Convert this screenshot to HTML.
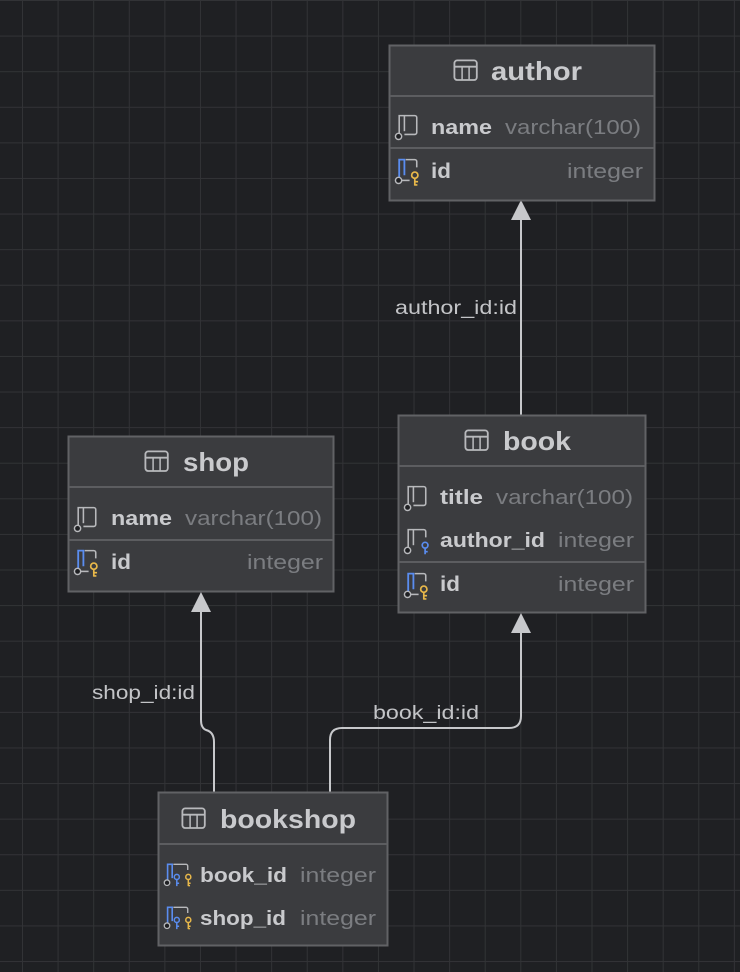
<!DOCTYPE html>
<html><head><meta charset="utf-8"><style>
html,body{margin:0;padding:0;}
body{width:740px;height:972px;overflow:hidden;background-color:#1f2023;
background-image:linear-gradient(to right,#323336 1px,transparent 1px),linear-gradient(to bottom,#323336 1px,transparent 1px);
background-size:35.6px 35.6px;background-position:22px 0px;font-family:"Liberation Sans",sans-serif;}
svg{position:absolute;left:0;top:0}
.t{font-weight:bold;fill:#c9cacd}
.g{fill:#7b7d81}
.l{fill:#c3c4c7;font-size:19px}
</style></head><body>
<svg width="740" height="972" xmlns="http://www.w3.org/2000/svg">
<defs>
<g id="tbl0"><rect x="1" y="1" width="16" height="14" rx="2" fill="none" stroke="#b8b9bc" stroke-width="1.3"/><line x1="1" y1="5.5" x2="17" y2="5.5" stroke="#b8b9bc" stroke-width="1.3"/><line x1="6.5" y1="5.5" x2="6.5" y2="15" stroke="#b8b9bc" stroke-width="1.1"/><line x1="11.5" y1="5.5" x2="11.5" y2="15" stroke="#b8b9bc" stroke-width="1.1"/></g>
<g id="tbl"><use href="#tbl0" transform="scale(1.4)"/></g>
<g id="col0"><path d="M4 16 V2 H16 a1.5 1.5 0 0 1 1.5 1.5 V15 a1.5 1.5 0 0 1 -1.5 1.5 H8" fill="none" stroke="#b8b9bc" stroke-width="1.2"/><line x1="8" y1="2" x2="8" y2="14" stroke="#b8b9bc" stroke-width="1.2"/><circle cx="3.5" cy="18" r="2.4" fill="#1f2023" stroke="#b8b9bc" stroke-width="1.1"/></g>
<g id="col"><use href="#col0" transform="scale(1.3)"/></g>
<g id="pk0"><path d="M9 2 H16 a1.5 1.5 0 0 1 1.5 1.5 V8" fill="none" stroke="#b8b9bc" stroke-width="1.2"/><path d="M4 16 V2 H8 V14" fill="none" stroke="#5a8df0" stroke-width="1.4"/><line x1="6" y1="18" x2="12" y2="18" stroke="#b8b9bc" stroke-width="1.2"/><circle cx="3.5" cy="18" r="2.4" fill="#1f2023" stroke="#b8b9bc" stroke-width="1.1"/><circle cx="16" cy="14" r="2.4" fill="none" stroke="#e8b84a" stroke-width="1.3"/><path d="M16 16.5 V22 M16 19 H18.5 M16 21.5 H18" stroke="#e8b84a" stroke-width="1.3"/></g>
<g id="pk"><use href="#pk0" transform="scale(1.3)"/></g>
<g id="fk0"><path d="M4 16 V2 H16 a1.5 1.5 0 0 1 1.5 1.5 V8" fill="none" stroke="#b8b9bc" stroke-width="1.2"/><line x1="8" y1="2" x2="8" y2="14" stroke="#b8b9bc" stroke-width="1.2"/><circle cx="3.5" cy="18" r="2.4" fill="#1f2023" stroke="#b8b9bc" stroke-width="1.1"/><circle cx="17" cy="14" r="2.2" fill="none" stroke="#5a8df0" stroke-width="1.3"/><path d="M17 16.5 V21 M17 19 H19" stroke="#5a8df0" stroke-width="1.3"/></g>
<g id="fk"><use href="#fk0" transform="scale(1.3)"/></g>
<g id="pfk0"><path d="M4 16 V2 H8 V14" fill="none" stroke="#5a8df0" stroke-width="1.4"/><path d="M9 2 H20 a1.5 1.5 0 0 1 1.5 1.5 V7" fill="none" stroke="#b8b9bc" stroke-width="1.2"/><circle cx="3.5" cy="18" r="2.4" fill="#1f2023" stroke="#b8b9bc" stroke-width="1.1"/><circle cx="12" cy="13" r="2.2" fill="none" stroke="#5a8df0" stroke-width="1.3"/><path d="M12 15.5 V21 M12 18.5 H14" stroke="#5a8df0" stroke-width="1.3"/><circle cx="22" cy="13" r="2.2" fill="none" stroke="#e8b84a" stroke-width="1.3"/><path d="M22 15.5 V21 M22 18.5 H24 M22 20.5 H23.5" stroke="#e8b84a" stroke-width="1.3"/></g>
<g id="pfk"><use href="#pfk0" transform="scale(1.15)"/></g>
</defs>

<g fill="none" stroke="#c7c8cb" stroke-width="2">
<path d="M521 415 V218"/>
<path d="M214 792 V742 Q214 732 206 730 Q201 728 201 720 V610"/>
<path d="M330 792 V740 Q330 728 342 728 H509 Q521 728 521 716 V632"/>
</g>
<g fill="#c7c8cb">
<polygon points="521,200 511,220 531,220"/>
<polygon points="201,592 191,612 211,612"/>
<polygon points="521,613 511,633 531,633"/>
</g>
<text class="l" x="395" y="314" textLength="122" lengthAdjust="spacingAndGlyphs">author_id:id</text>
<text class="l" x="92" y="699" textLength="103" lengthAdjust="spacingAndGlyphs">shop_id:id</text>
<text class="l" x="373" y="719" textLength="106" lengthAdjust="spacingAndGlyphs">book_id:id</text>

<g transform="translate(389,45)">
<rect x="0.5" y="0.5" width="265" height="155" fill="#3b3c3f" stroke="#616265" stroke-width="2"/>
<line x1="1" y1="51" x2="265" y2="51" stroke="#5c5d60" stroke-width="2"/>
<line x1="1" y1="103" x2="265" y2="103" stroke="#5c5d60" stroke-width="2"/>
<use href="#tbl" x="64" y="14"/>
<text class="t" x="102" y="35" font-size="26" textLength="91" lengthAdjust="spacingAndGlyphs">author</text>
<use href="#col" x="5" y="68"/>
<text class="t" x="42" y="89" font-size="20" textLength="61" lengthAdjust="spacingAndGlyphs">name</text>
<text class="g" x="116" y="89" font-size="20" textLength="136" lengthAdjust="spacingAndGlyphs">varchar(100)</text>
<use href="#pk" x="5" y="112"/>
<text class="t" x="42" y="133" font-size="21" textLength="20" lengthAdjust="spacingAndGlyphs">id</text>
<text class="g" x="178" y="133" font-size="20" textLength="76" lengthAdjust="spacingAndGlyphs">integer</text>
</g>

<g transform="translate(398,415)">
<rect x="0.5" y="0.5" width="247" height="197" fill="#3b3c3f" stroke="#616265" stroke-width="2"/>
<line x1="1" y1="51" x2="247" y2="51" stroke="#5c5d60" stroke-width="2"/>
<line x1="1" y1="147" x2="247" y2="147" stroke="#5c5d60" stroke-width="2"/>
<use href="#tbl" x="66" y="14"/>
<text class="t" x="105" y="35" font-size="26" textLength="68" lengthAdjust="spacingAndGlyphs">book</text>
<use href="#col" x="5" y="69"/>
<text class="t" x="42" y="89" font-size="20" textLength="43" lengthAdjust="spacingAndGlyphs">title</text>
<text class="g" x="98" y="89" font-size="20" textLength="137" lengthAdjust="spacingAndGlyphs">varchar(100)</text>
<use href="#fk" x="5" y="112"/>
<text class="t" x="42" y="132" font-size="20" textLength="105" lengthAdjust="spacingAndGlyphs">author_id</text>
<text class="g" x="160" y="132" font-size="20" textLength="76" lengthAdjust="spacingAndGlyphs">integer</text>
<use href="#pk" x="5" y="156"/>
<text class="t" x="42" y="176" font-size="21" textLength="20" lengthAdjust="spacingAndGlyphs">id</text>
<text class="g" x="160" y="176" font-size="20" textLength="76" lengthAdjust="spacingAndGlyphs">integer</text>
</g>

<g transform="translate(68,436)">
<rect x="0.5" y="0.5" width="265" height="155" fill="#3b3c3f" stroke="#616265" stroke-width="2"/>
<line x1="1" y1="51" x2="265" y2="51" stroke="#5c5d60" stroke-width="2"/>
<line x1="1" y1="104" x2="265" y2="104" stroke="#5c5d60" stroke-width="2"/>
<use href="#tbl" x="76" y="14"/>
<text class="t" x="115" y="35" font-size="26" textLength="66" lengthAdjust="spacingAndGlyphs">shop</text>
<use href="#col" x="5" y="69"/>
<text class="t" x="43" y="89" font-size="20" textLength="61" lengthAdjust="spacingAndGlyphs">name</text>
<text class="g" x="117" y="89" font-size="20" textLength="137" lengthAdjust="spacingAndGlyphs">varchar(100)</text>
<use href="#pk" x="5" y="112"/>
<text class="t" x="43" y="133" font-size="21" textLength="20" lengthAdjust="spacingAndGlyphs">id</text>
<text class="g" x="179" y="133" font-size="20" textLength="76" lengthAdjust="spacingAndGlyphs">integer</text>
</g>

<g transform="translate(158,792)">
<rect x="0.5" y="0.5" width="229" height="153" fill="#3b3c3f" stroke="#616265" stroke-width="2"/>
<line x1="1" y1="52" x2="229" y2="52" stroke="#5c5d60" stroke-width="2"/>
<use href="#tbl" x="23" y="15"/>
<text class="t" x="62" y="36" font-size="26" textLength="136" lengthAdjust="spacingAndGlyphs">bookshop</text>
<use href="#pfk" x="5" y="70"/>
<text class="t" x="42" y="90" font-size="20" textLength="87" lengthAdjust="spacingAndGlyphs">book_id</text>
<text class="g" x="142" y="90" font-size="20" textLength="76" lengthAdjust="spacingAndGlyphs">integer</text>
<use href="#pfk" x="5" y="113"/>
<text class="t" x="42" y="133" font-size="20" textLength="86" lengthAdjust="spacingAndGlyphs">shop_id</text>
<text class="g" x="142" y="133" font-size="20" textLength="76" lengthAdjust="spacingAndGlyphs">integer</text>
</g>
</svg>
</body></html>
